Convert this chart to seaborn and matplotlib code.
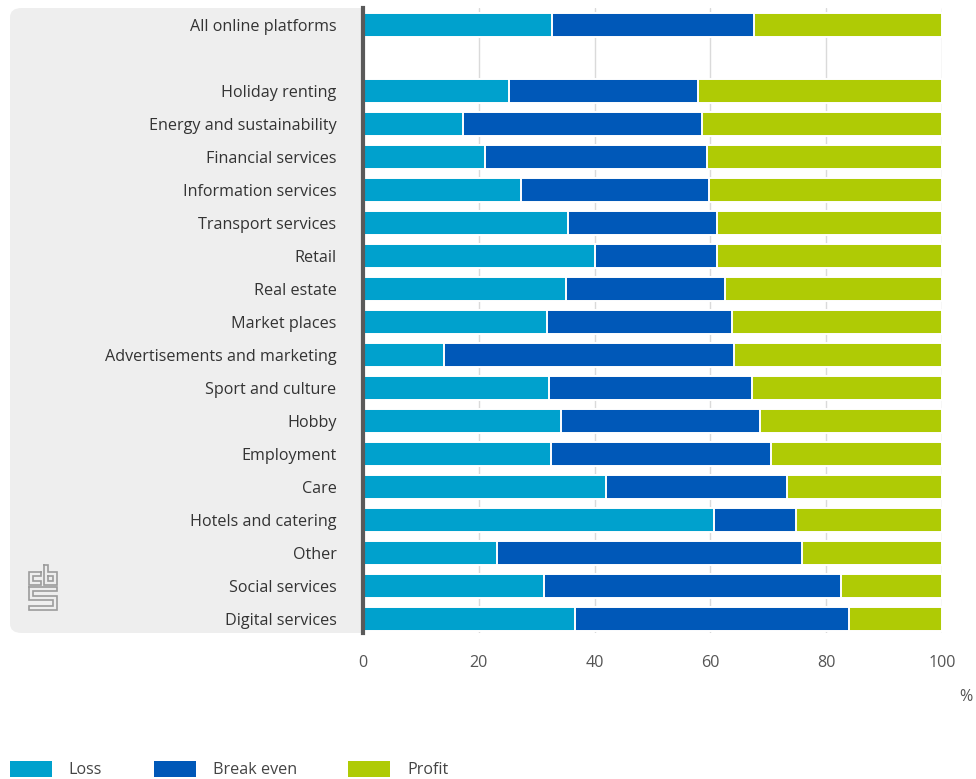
import numpy as np
import pandas as pd
import matplotlib
matplotlib.use("Agg")
import matplotlib.pyplot as plt
from matplotlib.patches import FancyBboxPatch, Patch
from matplotlib.lines import Line2D
import seaborn as sns

# Share of platforms by result (%), per sector
platforms = [
    "All online platforms",
    "Holiday renting",
    "Energy and sustainability",
    "Financial services",
    "Information services",
    "Transport services",
    "Retail",
    "Real estate",
    "Market places",
    "Advertisements and marketing",
    "Sport and culture",
    "Hobby",
    "Employment",
    "Care",
    "Hotels and catering",
    "Other",
    "Social services",
    "Digital services",
]
loss = [32.6, 25.3, 17.2, 21.1, 27.3, 35.4, 40.1, 35.0, 31.8,
        14.0, 32.1, 34.2, 32.4, 41.9, 60.6, 23.2, 31.2, 36.6]
break_even = [35.0, 32.6, 41.3, 38.3, 32.4, 25.7, 21.0, 27.6, 32.0,
              50.1, 35.0, 34.4, 38.0, 31.4, 14.2, 52.7, 51.3, 47.4]
profit = [32.4, 42.1, 41.5, 40.6, 40.3, 38.9, 38.9, 37.4, 36.2,
          35.9, 32.9, 31.4, 29.6, 26.7, 25.2, 24.1, 17.5, 16.0]
series_names = ["Loss", "Break even", "Profit"]
x_ticks = [0, 20, 40, 60, 80, 100]
unit_label = "%"

colors = {"Loss": "#00a1cd", "Break even": "#0058b8", "Profit": "#afcb05"}

df = pd.DataFrame({"platform": platforms, "Loss": loss,
                   "Break even": break_even, "Profit": profit})
df["cum_loss"] = df["Loss"]
df["cum_be"] = df["Loss"] + df["Break even"]
df["cum_profit"] = df["cum_be"] + df["Profit"]

# blank row separates the total from the sectors
order = [platforms[0], " "] + platforms[1:]

W, H = 976, 779
FS = 11.6
sns.set_theme(style="white")
plt.rcParams["font.family"] = ["Open Sans", "DejaVu Sans"]

fig = plt.figure(figsize=(W / 100, H / 100), dpi=100)
fig.patch.set_facecolor("white")


def fx(px):
    return px / W


def fy(py):
    return 1 - py / H


ax_left, ax_right, ax_top, ax_bottom = 363, 942, 8, 633
ax = fig.add_axes([fx(ax_left), fy(ax_bottom), fx(ax_right - ax_left),
                   (ax_bottom - ax_top) / H])
ax.set_facecolor("white")

# grey label panel with rounded corners behind the category labels
panel = FancyBboxPatch((fx(10), fy(ax_bottom)), fx(ax_left + 20 - 10),
                       (ax_bottom - ax_top) / H,
                       boxstyle="round,pad=0,rounding_size=0.012",
                       transform=fig.transFigure, facecolor="#eeeeee",
                       edgecolor="none", zorder=-10)
fig.add_artist(panel)

bar_h = 0.727
for col, name in [("cum_profit", "Profit"), ("cum_be", "Break even"),
                  ("cum_loss", "Loss")]:
    sns.barplot(data=df, x=col, y="platform", order=order, orient="h",
                color=colors[name], saturation=1, width=bar_h,
                edgecolor="white", linewidth=1.4, errorbar=None, ax=ax,
                zorder=3)

ax.set_xlim(0, 100)
ax.set_ylim(len(order) - 1 + 0.42, -0.515)
ax.set_xticks(x_ticks)
ax.set_xticklabels([str(t) for t in x_ticks])
ax.set_xlabel("")
ax.set_ylabel("")
ax.xaxis.grid(True, color="#dadada", linewidth=1, zorder=0)
ax.yaxis.grid(False)
ax.set_axisbelow(True)
for s in ["top", "right", "bottom"]:
    ax.spines[s].set_visible(False)
ax.spines["left"].set_color("#5a5a5a")
ax.spines["left"].set_linewidth(3)
ax.spines["left"].set_zorder(5)

ax.tick_params(axis="y", length=0, pad=19, labelsize=FS, labelcolor="#333333")
ax.tick_params(axis="x", length=0, pad=16, labelsize=FS, labelcolor="#555555")

fig.text(fx(966), fy(697), unit_label, ha="center", va="center",
         fontsize=FS, color="#555555")

# legend along the bottom edge
handles = [Patch(facecolor=colors[n], edgecolor="none") for n in series_names]
fig.legend(handles, series_names, loc="lower left",
           bbox_to_anchor=(fx(10), fy(778)), ncol=3, frameon=False,
           fontsize=FS, labelcolor="#444444", handlelength=2.6,
           handleheight=1.15, handletextpad=1.05, columnspacing=3.2,
           borderpad=0, borderaxespad=0)

# small CBS emblem in the panel
lx0, ly0, lw_px, lh_px = 29, 565, 28, 45


def logo_line(pts):
    xs = [fx(lx0 + p[0] / 10 * lw_px) for p in pts]
    ys = [fy(ly0 + p[1] / 15 * lh_px) for p in pts]
    fig.add_artist(Line2D(xs, ys, transform=fig.transFigure,
                          color="#9c9c9c", linewidth=1.2,
                          solid_joinstyle="miter"))


# c
logo_line([(4.4, 2.4), (0, 2.4), (0, 6.7), (4.4, 6.7), (4.4, 5.4),
           (1.4, 5.4), (1.4, 3.7), (4.4, 3.7), (4.4, 2.4)])
# b
logo_line([(5.2, 0), (6.8, 0), (6.8, 2.4), (10, 2.4), (10, 6.7),
           (5.2, 6.7), (5.2, 0)])
logo_line([(6.8, 3.7), (8.6, 3.7), (8.6, 5.4), (6.8, 5.4), (6.8, 3.7)])
# s
logo_line([(0, 7.2), (10, 7.2), (10, 8.6), (1.4, 8.6), (1.4, 10.4),
           (10, 10.4), (10, 15), (0, 15), (0, 13.6), (8.6, 13.6),
           (8.6, 11.8), (0, 11.8), (0, 7.2)])

fig.savefig("out.png", dpi=100)
